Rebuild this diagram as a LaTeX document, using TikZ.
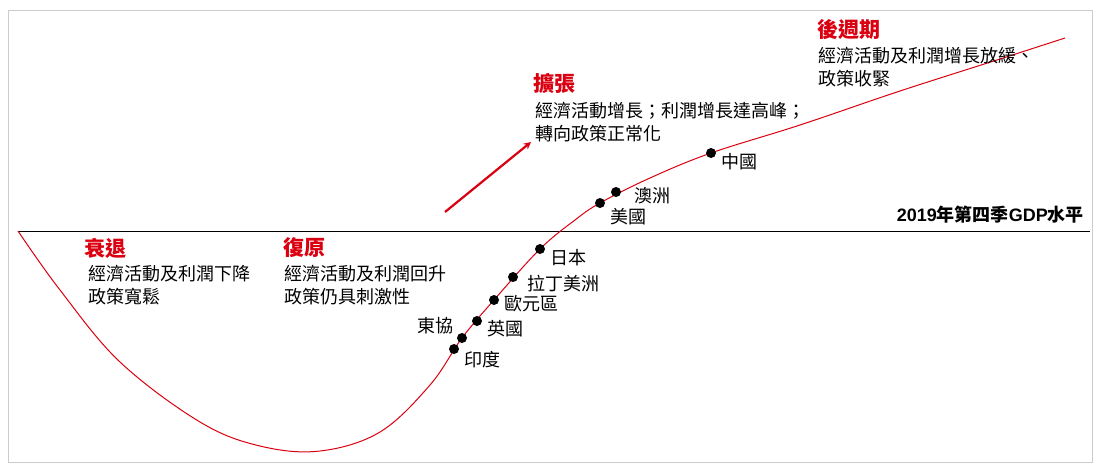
\documentclass[tikz,border=0pt]{standalone}
\usepackage{fontspec}
\setmainfont{Noto Sans CJK TC}
\newfontfamily\latinbold{Liberation Sans}
\definecolor{hsred}{HTML}{DB0011}
\begin{document}
\begin{tikzpicture}[x=1pt,y=-1pt,
  head/.style={anchor=west,text=hsred,font=\fontsize{21}{24}\selectfont\bfseries,inner sep=0pt},
  body/.style={anchor=north west,align=left,font=\fontsize{18}{23}\selectfont,inner sep=0pt},
  lab/.style={font=\fontsize{18}{20}\selectfont,inner sep=0pt},
  dot/.style={circle,fill=black,minimum size=10pt,inner sep=0pt}]
\useasboundingbox (0,0) rectangle (1101,472);
\fill[white] (0,0) rectangle (1101,472);
\draw[black!20] (8,10) rectangle (1092,462);
\draw[black,line width=0.8pt] (18,231) -- (1090,231);
\draw[hsred,line width=1pt] plot[smooth,tension=0.6] coordinates {(18,231) (60,290) (120,362) (200,422) (260,446) (320,451) (380,432) (430,385) (462,338) (494,300) (540,249) (575,220) (600,203) (650,178) (711,153) (800,125) (900,91) (1000,59) (1065,38)};
\draw[hsred,line width=2.2pt,-stealth] (445,212) -- (531,142);
\node[head] (h1) at (84,248) {衰退};
\node[body] (b1) at (88,265) {經濟活動及利潤下降\\政策寬鬆};
\node[head] (h2) at (283,248) {復原};
\node[body] (b2) at (284,265) {經濟活動及利潤回升\\政策仍具刺激性};
\node[head] (h3) at (533,83) {擴張};
\node[body] (b3) at (535,102) {經濟活動增長；利潤增長達高峰；\\轉向政策正常化};
\node[head] (h4) at (817,30) {後週期};
\node[body] (b4) at (818,47) {經濟活動及利潤增長放緩、\\政策收緊};
\node[anchor=east,font=\fontsize{18}{18}\selectfont\bfseries,inner sep=0pt] (gdp) at (1084,215) {{\latinbold 2019}年第四季{\latinbold GDP}水平};
\node[dot] (d1) at (454,349) {}; \node[lab,anchor=west] (l1) at (464,360) {印度};
\node[dot] (d2) at (462,338) {}; \node[lab,anchor=east] (l2) at (454,326) {東協};
\node[dot] (d3) at (477,321) {}; \node[lab,anchor=west] (l3) at (487,329) {英國};
\node[dot] (d4) at (494,300) {}; \node[lab,anchor=west] (l4) at (504,304) {歐元區};
\node[dot] (d5) at (513,277) {}; \node[lab,anchor=west] (l5) at (527,284) {拉丁美洲};
\node[dot] (d6) at (540,249) {}; \node[lab,anchor=west] (l6) at (550,258) {日本};
\node[dot] (d7) at (600,203) {}; \node[lab,anchor=west] (l7) at (610,217) {美國};
\node[dot] (d8) at (616,192) {}; \node[lab,anchor=west] (l8) at (634,196) {澳洲};
\node[dot] (d9) at (711,153) {}; \node[lab,anchor=west] (l9) at (721,162) {中國};
\end{tikzpicture}
\end{document}
